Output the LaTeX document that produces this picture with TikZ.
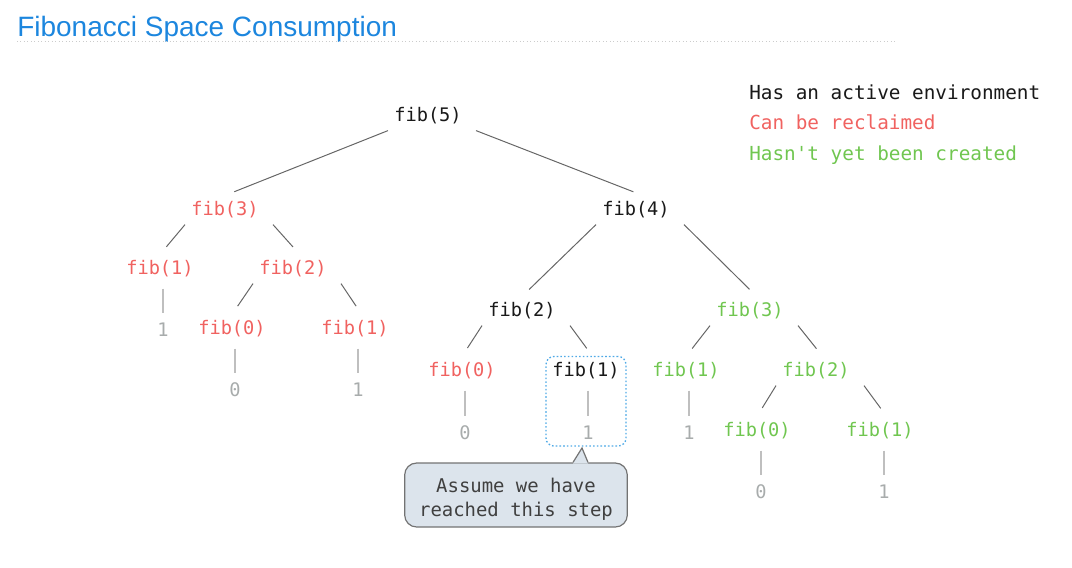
\documentclass[tikz,border=0pt]{standalone}
\usepackage{fontspec}
\setmainfont{Liberation Sans}
\setmonofont{DejaVu Sans Mono}
\usetikzlibrary{fit}
\definecolor{titleblue}{RGB}{28,134,222}
\definecolor{reclaimred}{RGB}{240,98,96}
\definecolor{pendinggreen}{RGB}{112,198,80}
\definecolor{leafgray}{RGB}{168,172,172}
\definecolor{notefill}{RGB}{220,228,236}
\definecolor{focusblue}{RGB}{80,170,230}
\tikzstyle{call}=[font=\ttfamily\fontsize{14}{17}\selectfont,inner sep=4.5pt]
\tikzstyle{active}=[call,text=black!90]
\tikzstyle{reclaimed}=[call,text=reclaimred]
\tikzstyle{pending}=[call,text=pendinggreen]
\tikzstyle{leaf}=[call,text=leafgray]
\tikzstyle{branch}=[draw=black!60,line width=0.75pt,shorten >=7.5pt]
\tikzstyle{stem}=[draw=black!25,line width=1.1pt,shorten <=3.75pt,shorten >=3pt]
\tikzstyle{keytext}=[font=\ttfamily\fontsize{14.5}{17}\selectfont,anchor=base west,inner sep=0pt]
\tikzstyle{note}=[draw=black!55,fill=notefill,rounded corners=9pt,line width=0.9pt,minimum width=167pt,minimum height=48pt,align=center,font=\ttfamily\fontsize{14.2}{17.5}\selectfont,text=black!75]

\begin{document}
\begin{tikzpicture}[x=0.75pt,y=-0.75pt]
\useasboundingbox (0,0) rectangle (1072,568);

\node[anchor=base west,inner sep=0pt,font=\fontsize{21}{25}\selectfont,text=titleblue] (title) at (17,36) {Fibonacci Space Consumption};
\draw[black!20,dotted,line width=0.6pt] (17,41) -- (897,41);

\node[keytext,text=black!90] (key-active) at (749,99.5) {Has an active environment};
\node[keytext,text=reclaimred] (key-reclaimed) at (749,129.5) {Can be reclaimed};
\node[keytext,text=pendinggreen] (key-pending) at (749,160) {Hasn't yet been created};

\node[active] (fib5) at (428,116) {fib(5)};
\node[reclaimed] (fib3) at (225,210) {fib(3)};
\node[active] (fib4) at (636,210) {fib(4)};

\node[reclaimed] (fib1-a) at (160,269) {fib(1)};
\node[reclaimed] (fib2-a) at (293,269) {fib(2)};
\node[leaf] (val1-a) at (163,330) {1};
\node[reclaimed] (fib0-a) at (232,329) {fib(0)};
\node[reclaimed] (fib1-b) at (355,329) {fib(1)};
\node[leaf] (val0-a) at (235,390) {0};
\node[leaf] (val1-b) at (358,390) {1};

\node[active] (fib2-b) at (522,311) {fib(2)};
\node[pending] (fib3-b) at (750,311) {fib(3)};
\node[reclaimed] (fib0-b) at (462,371) {fib(0)};
\node[active] (fib1-c) at (586,371) {fib(1)};
\node[leaf] (val0-b) at (465,433) {0};
\node[leaf] (val1-c) at (588,433) {1};

\node[pending] (fib1-d) at (686,371) {fib(1)};
\node[pending] (fib2-c) at (816,371) {fib(2)};
\node[leaf] (val1-d) at (689,433) {1};
\node[pending] (fib0-c) at (757,431) {fib(0)};
\node[pending] (fib1-e) at (880,431) {fib(1)};
\node[leaf] (val0-c) at (761,492) {0};
\node[leaf] (val1-e) at (884,492) {1};

\draw[branch] (fib5.south west) -- (fib3.north);
\draw[branch] ([xshift=6pt]fib5.south east) -- ([xshift=5pt]fib4.north);

\draw[branch] (fib3.south west) -- (fib1-a.north);
\draw[branch] ([xshift=6pt]fib3.south east) -- ([xshift=5pt]fib2-a.north);
\draw[stem] (fib1-a.south -| val1-a) -- (val1-a);
\draw[branch] (fib2-a.south west) -- (fib0-a.north);
\draw[branch] ([xshift=6pt]fib2-a.south east) -- ([xshift=5pt]fib1-b.north);
\draw[stem] (fib0-a.south -| val0-a) -- (val0-a);
\draw[stem] (fib1-b.south -| val1-b) -- (val1-b);

\draw[branch] (fib4.south west) -- (fib2-b.north);
\draw[branch] ([xshift=6pt]fib4.south east) -- ([xshift=5pt]fib3-b.north);
\draw[branch] (fib2-b.south west) -- (fib0-b.north);
\draw[branch] ([xshift=6pt]fib2-b.south east) -- ([xshift=5pt]fib1-c.north);
\draw[stem] (fib0-b.south -| val0-b) -- (val0-b);
\draw[stem] (fib1-c.south -| val1-c) -- (val1-c);

\draw[branch] (fib3-b.south west) -- (fib1-d.north);
\draw[branch] ([xshift=6pt]fib3-b.south east) -- ([xshift=5pt]fib2-c.north);
\draw[stem] (fib1-d.south -| val1-d) -- (val1-d);
\draw[branch] (fib2-c.south west) -- (fib0-c.north);
\draw[branch] ([xshift=6pt]fib2-c.south east) -- ([xshift=5pt]fib1-e.north);
\draw[stem] (fib0-c.south -| val0-c) -- (val0-c);
\draw[stem] (fib1-e.south -| val1-e) -- (val1-e);

% the step we stopped at
\node[draw=focusblue,dash pattern=on 1.2pt off 1.6pt,line width=1pt,rounded corners=6pt,inner sep=0pt,fit=(fib1-c)(val1-c)] (focus) {};

\node[note] (note) at (516,495) {\rule{0pt}{17pt}Assume we have\\reached this step};
\coordinate (tip) at (582,448);
\coordinate (base) at (tip |- note.north);
\fill[notefill] ([xshift=-6.75pt,yshift=-1pt]base) -- ([xshift=-6.75pt]base) -- (tip) -- ([xshift=4.5pt]base) -- ([xshift=4.5pt,yshift=-1pt]base) -- cycle;
\draw[black!55,line width=0.9pt] ([xshift=-6.75pt]base) -- (tip) -- ([xshift=4.5pt]base);
\end{tikzpicture}
\end{document}
